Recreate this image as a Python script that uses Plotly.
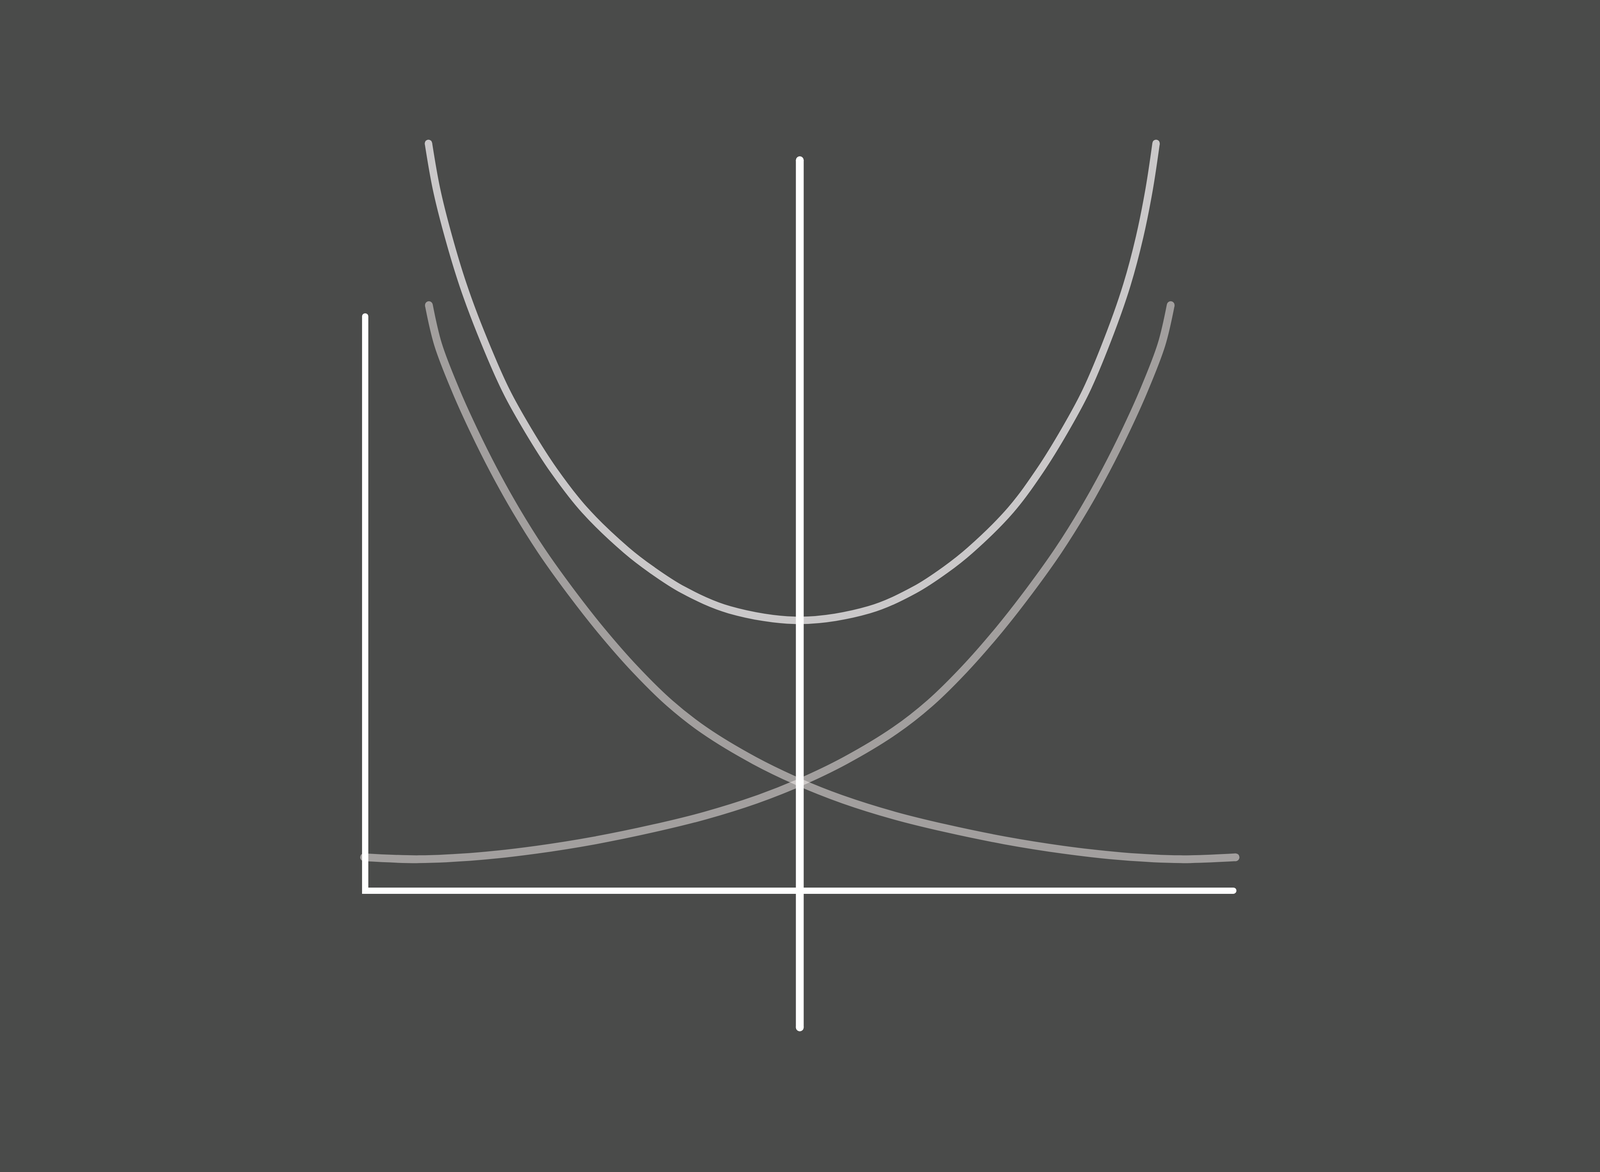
import plotly.graph_objects as go

# sketch units: 1 unit = height where e^x and e^-x cross above the baseline

# U-shaped curve (cosh-like)
u_x = [-3.504, -3.428, -3.315, -3.178, -3.011, -2.772, -2.562, -2.322, -2.029,
       -1.638, -1.395, -1.101, -0.663, 0.0, 0.652, 1.083, 1.373, 1.609, 1.989,
       2.268, 2.500, 2.703, 2.931, 3.087, 3.207, 3.297, 3.362]
u_y = [6.931, 6.507, 6.065, 5.620, 5.178, 4.638, 4.268, 3.899, 3.529,
       3.159, 2.975, 2.790, 2.605, 2.507, 2.605, 2.790, 2.975, 3.159, 3.529,
       3.899, 4.268, 4.638, 5.178, 5.620, 6.065, 6.507, 6.931]

# decreasing curve (e^-x)
dec_x = [-3.500, -3.413, -3.246, -3.076, -2.888, -2.678, -2.442, -2.174, -1.880,
         -1.551, -1.228, -0.899, -0.428, 0.0, 0.413, 0.895, 1.373, 1.931,
         2.486, 3.040, 3.594, 4.112]
dec_y = [5.431, 5.065, 4.638, 4.268, 3.899, 3.529, 3.159, 2.790, 2.420,
         2.051, 1.739, 1.486, 1.207, 1.004, 0.844, 0.696, 0.580, 0.467,
         0.380, 0.319, 0.292, 0.310]

# increasing curve (e^x)
inc_x = [-4.112, -3.594, -3.040, -2.486, -1.931, -1.373, -0.895, -0.413, 0.0,
         0.428, 0.899, 1.228, 1.551, 1.880, 2.174, 2.442, 2.678, 2.888,
         3.076, 3.246, 3.413, 3.500]
inc_y = [0.310, 0.292, 0.319, 0.380, 0.467, 0.580, 0.696, 0.844, 1.004,
         1.207, 1.486, 1.739, 2.051, 2.420, 2.790, 3.159, 3.529, 3.899,
         4.268, 4.638, 5.065, 5.431]

# L-frame (left axis + baseline) and the vertical line through x = 0
frame_x = [-4.101, -4.101, 4.091]
frame_y = [5.326, 0.0, 0.0]
mid_x = [0.0, 0.0]
mid_y = [6.775, -1.268]

BG = "#4a4b4a"
GRAY = "rgba(250,243,242,0.5)"   # translucent so the crossing lights up
GRAY_CAP = "rgb(162,159,158)"    # same tone as GRAY over the background
LIGHT = "#cac8c9"
WHITE = "#ffffff"


def curve(xs, ys, color, width, cap_color=None, shape="spline"):
    fig.add_trace(go.Scatter(
        x=xs, y=ys, mode="lines",
        line=dict(color=color, width=width, shape=shape, smoothing=1),
        hoverinfo="skip"
    ))
    # round ends like a marker pen
    fig.add_trace(go.Scatter(
        x=[xs[0], xs[-1]], y=[ys[0], ys[-1]], mode="markers",
        marker=dict(color=cap_color or color, size=width, line=dict(width=0)),
        hoverinfo="skip"
    ))


fig = go.Figure()

curve(dec_x, dec_y, GRAY, 20, cap_color=GRAY_CAP)
curve(inc_x, inc_y, GRAY, 20, cap_color=GRAY_CAP)
curve(u_x, u_y, LIGHT, 19)
curve(frame_x, frame_y, WHITE, 16, shape="linear")
curve(mid_x, mid_y, WHITE, 20, shape="linear")

fig.update_layout(
    autosize=True,
    margin=dict(l=0, r=0, t=0, b=0),
    paper_bgcolor=BG, plot_bgcolor=BG,
    showlegend=False,
    xaxis=dict(range=[-7.547, 7.551], visible=False, fixedrange=True),
    yaxis=dict(range=[-2.609, 8.261], visible=False, fixedrange=True),
)

# fill the whole window, no page margin, no toolbar
fig.write_html(
    "out.html",
    default_width="100vw", default_height="100vh",
    config={"displayModeBar": False, "responsive": True},
    post_script="document.body.style.margin='0';",
)
